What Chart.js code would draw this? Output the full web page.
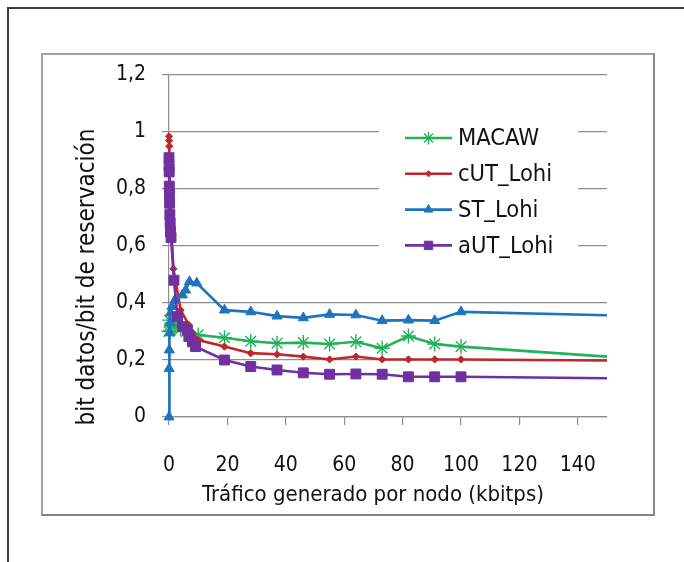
<!DOCTYPE html>
<html>
<head>
<meta charset="utf-8">
<script src="https://cdn.jsdelivr.net/npm/chart.js@4.4.0/dist/chart.umd.min.js"></script>
<style>
  html, body { margin: 0; padding: 0; background: #fff; overflow: hidden; }
  #page { position: relative; width: 684px; height: 562px; }
  #outer { position: absolute; left: 7px; top: 7px; width: 720px; height: 620px;
           border-left: 2px solid #3c3c3c; border-top: 2px solid #3c3c3c; }
  #frame { position: absolute; left: 41px; top: 53px; width: 610px; height: 459px;
           border: 2px solid #a0a0a0; border-right-color: #858585; border-bottom-color: #858585; }
  #chart { position: absolute; left: 0; top: 0; }
</style>
</head>
<body>
<div id="page">
  <div id="outer"></div>
  <div id="frame"></div>
  <canvas id="chart" width="684" height="562"></canvas>
</div>
<script>
// values
const seriesNames = ['MACAW', 'cUT_Lohi', 'ST_Lohi', 'aUT_Lohi'];

const macawX = [0, 0.2, 0.5, 1, 2, 4, 6, 10, 19, 28, 37, 46, 55, 64, 73, 82, 91, 100, 150];
const macawY = [0.30, 0.34, 0.305, 0.33, 0.32, 0.31, 0.30, 0.288, 0.278, 0.266, 0.259, 0.261, 0.256, 0.264, 0.241, 0.284, 0.256, 0.247, 0.212];

const cutX = [0, 0.05, 0.1, 0.2, 0.5, 1.5, 4, 6.8, 8, 10, 19, 28, 37, 46, 55, 64, 73, 82, 91, 100, 150];
const cutY = [0.985, 0.97, 0.95, 0.86, 0.72, 0.52, 0.375, 0.323, 0.294, 0.27, 0.247, 0.224, 0.22, 0.212, 0.202, 0.212, 0.202, 0.202, 0.202, 0.202, 0.198];

const stX = [0, 0.05, 0.1, 0.2, 0.3, 0.5, 1, 2, 4.6, 5.7, 7, 9.5, 19, 28, 37, 46, 55, 64, 73, 82, 91, 100, 150];
const stY = [0, 0.17, 0.235, 0.295, 0.33, 0.365, 0.387, 0.41, 0.428, 0.445, 0.475, 0.47, 0.375, 0.369, 0.354, 0.348, 0.36, 0.358, 0.338, 0.34, 0.338, 0.369, 0.357];

const autX = [0, 0.03, 0.06, 0.1, 0.15, 0.2, 0.3, 0.4, 0.5, 0.7, 1.7, 2.9, 4.6, 6.3, 6.8, 8, 9.1, 19, 28, 37, 46, 55, 64, 73, 82, 91, 100, 150];
const autY = [0.91, 0.88, 0.86, 0.81, 0.78, 0.75, 0.71, 0.68, 0.65, 0.63, 0.48, 0.352, 0.317, 0.305, 0.282, 0.264, 0.247, 0.2, 0.177, 0.165, 0.155, 0.15, 0.151, 0.15, 0.141, 0.141, 0.141, 0.136];

const xTickLabels = [0, 20, 40, 60, 80, 100, 120, 140];
const yTickLabels = ['0', '0,2', '0,4', '0,6', '0,8', '1', '1,2'];
const xTitle = 'Tráfico generado por nodo (kbitps)';
const yTitle = 'bit datos/bit de reservación';

const FONT = "'Liberation Sans Narrow', 'DejaVu Sans Condensed', sans-serif";
const GRID = '#8e8e8e';
const INK = '#111';

function pts(xs, ys) {
  return xs.map((x, i) => ({ x: x, y: ys[i] }));
}
// last point (x=150) only carries the line, no marker
function radii(xs, r) {
  return xs.map((x, i) => (i === xs.length - 1 ? 0 : r));
}

const styles = [
  { color: '#22b257', point: 'star', r: 7.5, order: 4 },
  { color: '#c0262c', point: 'rectRot', r: 3.6, order: 3 },
  { color: '#1e74c0', point: 'triangle', r: 5.8, order: 2 },
  { color: '#7030a0', point: 'rect', r: 7, order: 1 }
];
const allX = [macawX, cutX, stX, autX];
const allY = [macawY, cutY, stY, autY];

const datasets = seriesNames.map((name, i) => ({
  label: name,
  data: pts(allX[i], allY[i]),
  borderColor: styles[i].color,
  backgroundColor: styles[i].color,
  borderWidth: 2.6,
  pointStyle: styles[i].point,
  pointRadius: radii(allX[i], styles[i].r),
  legendRadius: styles[i].r,
  pointBackgroundColor: styles[i].color,
  pointBorderColor: styles[i].color,
  pointBorderWidth: i === 0 ? 1.4 : 1,
  tension: 0,
  clip: false,
  order: styles[i].order
}));

// legend on a white box over the gridlines, plus the two axis titles
const extras = {
  id: 'extras',
  afterDatasetsDraw(chart) {
    const ctx = chart.ctx;
    ctx.save();
    ctx.fillStyle = '#fff';
    ctx.fillRect(379, 112, 199, 156);
    chart.data.datasets.forEach((ds, i) => {
      const y = 138 + i * 35.8;
      ctx.strokeStyle = ds.borderColor;
      ctx.lineWidth = ds.borderWidth;
      ctx.beginPath();
      ctx.moveTo(405, y);
      ctx.lineTo(452, y);
      ctx.stroke();
      ctx.fillStyle = ds.pointBackgroundColor;
      ctx.strokeStyle = ds.pointBorderColor;
      ctx.lineWidth = ds.pointBorderWidth;
      Chart.helpers.drawPoint(ctx, { pointStyle: ds.pointStyle, radius: ds.legendRadius * 0.85, rotation: 0, borderWidth: ds.pointBorderWidth }, 428.5, y);
      ctx.fillStyle = INK;
      ctx.font = '23.5px ' + FONT;
      ctx.textBaseline = 'middle';
      ctx.textAlign = 'left';
      ctx.fillText(ds.label, 458, y + 1);
    });

    ctx.fillStyle = INK;
    ctx.textAlign = 'center';
    ctx.textBaseline = 'middle';
    ctx.font = '22px ' + FONT;
    ctx.fillText(xTitle, 373, 495);
    ctx.translate(88, 277);
    ctx.rotate(-Math.PI / 2);
    ctx.font = '24px ' + FONT;
    ctx.fillText(yTitle, 0, 0);
    ctx.restore();
  }
};

new Chart(document.getElementById('chart'), {
  type: 'line',
  data: { datasets: datasets },
  plugins: [extras],
  options: {
    responsive: false,
    animation: false,
    events: [],
    layout: { padding: { left: 76, top: 75, right: 77, bottom: 55 } },
    plugins: { legend: { display: false }, tooltip: { enabled: false } },
    scales: {
      x: {
        type: 'linear',
        min: 0, max: 150,
        afterFit: (s) => { s.height = 90; },
        afterBuildTicks: (s) => { s.ticks = xTickLabels.map(v => ({ value: v })); },
        ticks: { padding: 28, color: INK, font: { family: FONT, size: 21 }, maxRotation: 0, callback: (v) => String(v) },
        grid: { drawOnChartArea: false, drawTicks: true, tickLength: 8, color: GRID, lineWidth: 1.2 },
        border: { display: true, color: GRID, width: 1.2 },
        title: { display: false }
      },
      y: {
        min: 0, max: 1.2,
        afterFit: (s) => { s.width = 93; },
        afterBuildTicks: (s) => { s.ticks = yTickLabels.map((t, i) => ({ value: i * 0.2 })); },
        ticks: { padding: 16, color: INK, font: { family: FONT, size: 21 },
                 callback: (v, i) => yTickLabels[i] },
        grid: { color: GRID, lineWidth: 1.2, tickLength: 7 },
        border: { display: true, color: GRID, width: 1.2 },
        title: { display: false }
      }
    }
  }
});
</script>
</body>
</html>
